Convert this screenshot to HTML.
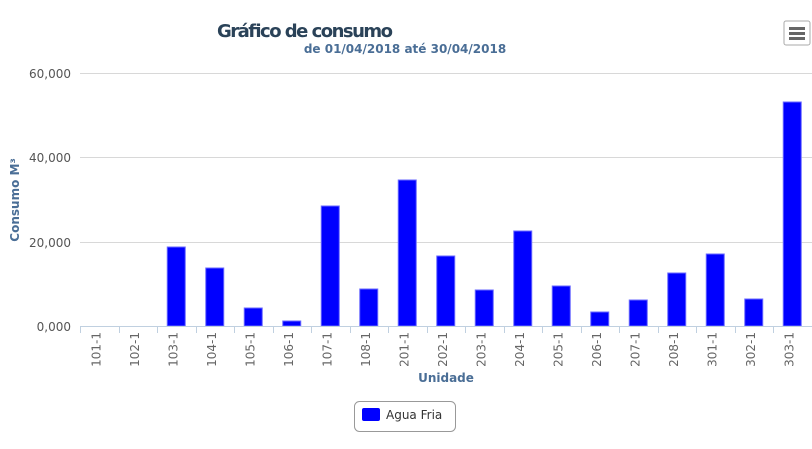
<!DOCTYPE html><html><head><meta charset="utf-8"><style>body{margin:0;background:#fff}svg{display:block;font-family:"DejaVu Sans","Liberation Sans",sans-serif}</style></head><body>
<svg width="812" height="449" xmlns="http://www.w3.org/2000/svg">
<text x="305" y="37" text-anchor="middle" font-size="18" font-weight="bold" fill="#2a4258" textLength="176">Gráfico de consumo</text>
<text x="405" y="53" text-anchor="middle" font-size="12" font-weight="bold" fill="#4a6e96">de 01/04/2018 até 30/04/2018</text>
<g>
<rect x="784" y="21" width="26" height="24" rx="2" fill="#fff" stroke="#aaa"/>
<rect x="789" y="27" width="16" height="3" fill="#666"/><rect x="789" y="32" width="16" height="3" fill="#666"/><rect x="789" y="37" width="16" height="3" fill="#666"/>
</g>
<g stroke="#d8d8d8" stroke-width="1">
<line x1="80" y1="73.5" x2="812" y2="73.5"/><line x1="80" y1="157.5" x2="812" y2="157.5"/><line x1="80" y1="242.5" x2="812" y2="242.5"/>
</g>
<g font-size="12" fill="#555" text-anchor="end">
<text x="71" y="78">60,000</text><text x="71" y="162">40,000</text><text x="71" y="247">20,000</text><text x="71" y="331">0,000</text>
</g>
<text transform="translate(19,200) rotate(-90)" text-anchor="middle" font-size="12" font-weight="bold" fill="#4a6e96">Consumo M³</text>
<g fill="#0000ff" stroke="#6a6aff" stroke-width="1" id="bars"></g>
<line x1="80" y1="326.5" x2="812" y2="326.5" stroke="#c0d0e0"/>
<g id="ticks" stroke="#c0d0e0"></g>
<g id="labels" font-size="12" fill="#666"></g>
<text x="446" y="382" text-anchor="middle" font-size="12" font-weight="bold" fill="#4a6e96">Unidade</text>
<rect x="354.5" y="401.5" width="101" height="30" rx="5" fill="#fff" stroke="#999"/>
<rect x="362" y="408" width="18" height="13" rx="2" fill="#0000ff"/>
<text x="386" y="419" font-size="12" fill="#333">Agua Fria</text>
<script>
var n=["101-1","102-1","103-1","104-1","105-1","106-1","107-1","108-1","201-1","202-1","203-1","204-1","205-1","206-1","207-1","208-1","301-1","302-1","303-1"];
var t=[326,326,247,268,308,321,206,289,180,256,290,231,286,312,300,273,254,299,102];
var s="http://www.w3.org/2000/svg",w=38.5;
for(var i=0;i<19;i++){var c=80+w*(i+0.5);
if(t[i]<326){var r=document.createElementNS(s,"rect");r.setAttribute("x",c-9);r.setAttribute("y",t[i]);r.setAttribute("width",18);r.setAttribute("height",326-t[i]);document.getElementById("bars").appendChild(r);}
var l=document.createElementNS(s,"line");var x=Math.round(80+w*i)+.5;l.setAttribute("x1",x);l.setAttribute("x2",x);l.setAttribute("y1",326);l.setAttribute("y2",333);document.getElementById("ticks").appendChild(l);
var tx=document.createElementNS(s,"text");tx.setAttribute("transform","translate("+(c+1)+",332) rotate(-90)");tx.setAttribute("text-anchor","end");tx.textContent=n[i];document.getElementById("labels").appendChild(tx);}
</script>
</svg></body></html>
